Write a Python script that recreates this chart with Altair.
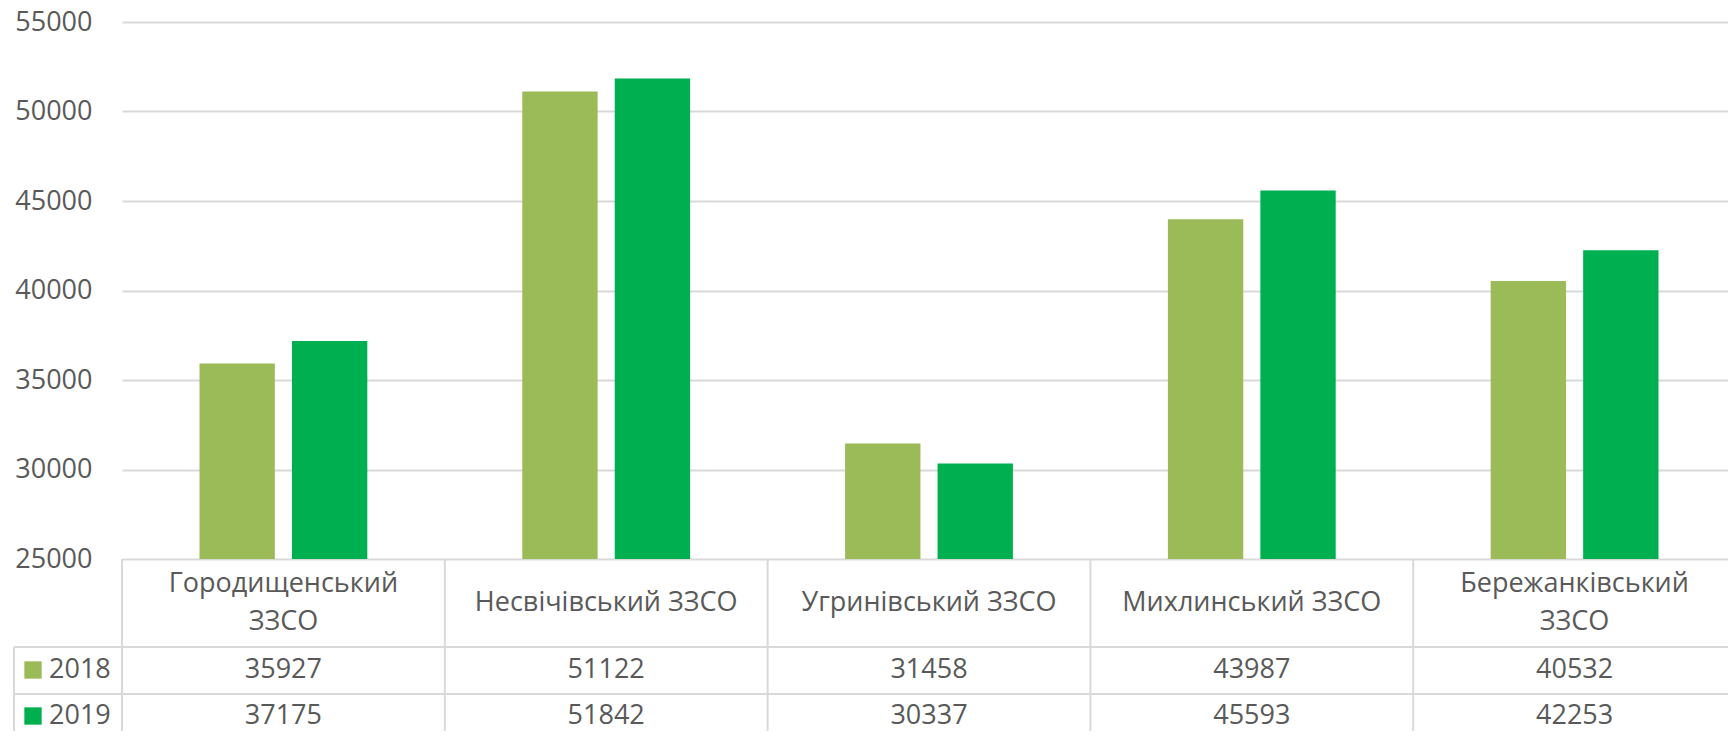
import altair as alt
import pandas as pd

categories = ["Городищенський ЗЗСО", "Несвічівський ЗЗСО", "Угринівський ЗЗСО",
              "Михлинський ЗЗСО", "Бережанківський ЗЗСО"]
labels = ["Городищенський\nЗЗСО", "Несвічівський ЗЗСО", "Угринівський ЗЗСО",
          "Михлинський ЗЗСО", "Бережанківський\nЗЗСО"]
years = ["2018", "2019"]
values_2018 = [35927, 51122, 31458, 43987, 40532]
values_2019 = [37175, 51842, 30337, 45593, 42253]
colors = ["#9BBB59", "#00B050"]
y_ticks = [25000, 30000, 35000, 40000, 45000, 50000, 55000]

FONT = "Open Sans"
FS = 27
TXT = "#595959"
LINE = "#d9d9d9"
W, H = 1614, 537
ROW_Y = {"2018": 648, "2019": 694}
ROW_LINES = [625, 672]
TABLE_BOTTOM = 730
LEFT_EDGE = -108
LINE_H = 38

rows = []
for c, a, b in zip(categories, values_2018, values_2019):
    rows.append({"cat": c, "year": "2018", "value": a})
    rows.append({"cat": c, "year": "2019", "value": b})
df = pd.DataFrame(rows)
df_cat = pd.DataFrame({"cat": categories, "label": labels,
                       "nlines": [lab.count("\n") + 1 for lab in labels]})
df_dummy = pd.DataFrame({"k": [0]})

x_enc = alt.X("cat:N", sort=categories,
              scale=alt.Scale(paddingInner=0, paddingOuter=0), axis=None)

bars = alt.Chart(df).mark_bar().encode(
    x=x_enc,
    xOffset=alt.XOffset("year:N", sort=years,
                        scale=alt.Scale(paddingInner=0.185, paddingOuter=0.838)),
    y=alt.Y("value:Q",
            scale=alt.Scale(domain=[25000, 55000], nice=False, zero=False),
            axis=alt.Axis(values=y_ticks, format="d", grid=True, gridColor=LINE,
                          gridWidth=2, domain=False, ticks=False, labelFont=FONT,
                          labelFontSize=FS, labelColor=TXT, labelPadding=30,
                          title=None)),
    y2=alt.datum(25000),
    color=alt.Color("year:N", scale=alt.Scale(domain=years, range=colors), legend=None),
)

cat_layers = []
for n in (1, 2):
    cat_layers.append(
        alt.Chart(df_cat).transform_filter(alt.datum.nlines == n).mark_text(
            font=FONT, fontSize=FS, color=TXT, lineBreak="\n", lineHeight=LINE_H,
            baseline="middle", align="center"
        ).encode(x=alt.X("cat:N", sort=categories, bandPosition=0.5),
                 y=alt.value(581 - (n - 1) * LINE_H / 2),
                 text="label:N"))

vlines = alt.Chart(df_cat).mark_rule(color=LINE, strokeWidth=2).encode(
    x=alt.X("cat:N", sort=categories, bandPosition=0),
    y=alt.value(H), y2=alt.value(TABLE_BOTTOM))

left_line = alt.Chart(df_dummy).mark_rule(color=LINE, strokeWidth=2).encode(
    x=alt.value(LEFT_EDGE), y=alt.value(ROW_LINES[0]), y2=alt.value(TABLE_BOTTOM))

hlines = [
    alt.Chart(df_dummy).mark_rule(color=LINE, strokeWidth=2).encode(
        x=alt.value(LEFT_EDGE), x2=alt.value(W), y=alt.value(yy))
    for yy in ROW_LINES
]

row_layers = []
for yr, col in zip(years, colors):
    sub = df[df["year"] == yr]
    row_layers.append(
        alt.Chart(sub).mark_text(font=FONT, fontSize=FS, color=TXT,
                                 baseline="middle", align="center").encode(
            x=alt.X("cat:N", sort=categories, bandPosition=0.5),
            y=alt.value(ROW_Y[yr]), text="value:Q"))
    yr_df = pd.DataFrame({"year": [yr]})
    row_layers.append(
        alt.Chart(yr_df).mark_square(size=300, color=col, opacity=1, filled=True).encode(
            x=alt.value(-89), y=alt.value(ROW_Y[yr])))
    row_layers.append(
        alt.Chart(yr_df).mark_text(font=FONT, fontSize=FS, color=TXT,
                                   baseline="middle", align="left").encode(
            x=alt.value(-73), y=alt.value(ROW_Y[yr]), text="year:N"))

chart = alt.layer(bars, vlines, left_line, *hlines, *cat_layers, *row_layers).properties(
    width=W, height=H,
    autosize=alt.AutoSizeParams(type="none"),
    padding={"left": 114, "top": 14, "right": -8, "bottom": 172},
).configure_view(stroke=None)

chart.save("out.html", embed_options={"renderer": "svg", "actions": False})
